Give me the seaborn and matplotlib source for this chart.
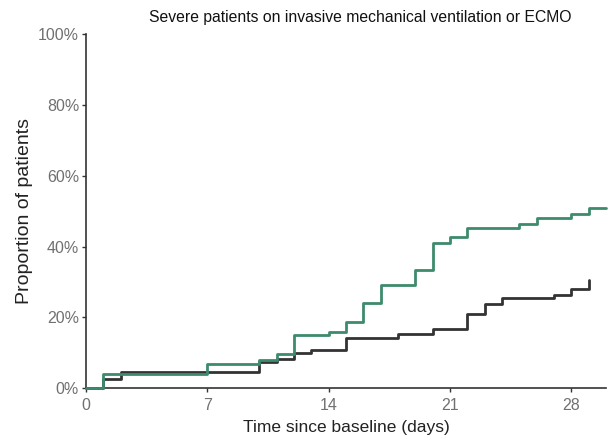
import matplotlib
matplotlib.use('Agg')
import matplotlib.pyplot as plt
import seaborn as sns
from matplotlib.ticker import FuncFormatter

# step curves (days, percent)
green_days = [0, 1, 7, 10, 11, 12, 14, 15, 16, 17, 19, 20, 21, 22, 25, 26, 28, 29, 30]
green_vals = [0, 4.1, 6.9, 7.9, 9.5, 14.9, 15.9, 18.7, 24.1, 29.0, 33.4, 41.0, 42.6, 45.2, 46.5, 48.0, 49.3, 50.8, 50.8]
black_days = [0, 1, 2, 10, 11, 12, 13, 15, 18, 20, 22, 23, 24, 27, 28, 29]
black_vals = [0, 2.6, 4.4, 7.3, 8.3, 9.9, 10.8, 14.1, 15.3, 16.8, 21.0, 23.8, 25.5, 26.4, 28.1, 30.5]

x_ticks = [0, 7, 14, 21, 28]
y_ticks = [0, 20, 40, 60, 80, 100]

sns.set_style('white')
plt.rcParams['font.family'] = ['Liberation Sans', 'DejaVu Sans']

fig = plt.figure(figsize=(6.13, 4.45), dpi=100)
ax = fig.add_axes([0.1403, 0.1281, 0.8483, 0.7944])

sns.lineplot(x=black_days, y=black_vals, ax=ax, color='#333333', linewidth=2,
             drawstyle='steps-post', sort=False, estimator=None, zorder=3, clip_on=False)
sns.lineplot(x=green_days, y=green_vals, ax=ax, color='#3d8b6d', linewidth=2,
             drawstyle='steps-post', sort=False, estimator=None, zorder=3, clip_on=False)

ax.set_xlim(0, 30)
ax.set_ylim(0, 100)
ax.set_xticks(x_ticks)
ax.set_yticks(y_ticks)
ax.yaxis.set_major_formatter(FuncFormatter(lambda v, p: f'{v:.0f}%'))
sns.despine(ax=ax)
for s in ['left', 'bottom']:
    ax.spines[s].set_color('#333333')
    ax.spines[s].set_linewidth(1.2)
ax.tick_params(axis='both', direction='out', length=3, width=1, color='#333333',
               labelsize=11.5, labelcolor='#707070', pad=2)
ax.tick_params(axis='x', pad=4)
ax.tick_params(left=True, bottom=True)

ax.set_xlabel('Time since baseline (days)', fontsize=12.5, color='#222222', labelpad=5)
ax.set_ylabel('Proportion of patients', fontsize=14, color='#222222', labelpad=4)
fig.text(0.587, 0.96, 'Severe patients on invasive mechanical ventilation or ECMO',
         fontsize=11.3, color='#111111', ha='center', va='center')

fig.savefig('out.png', dpi=100)
